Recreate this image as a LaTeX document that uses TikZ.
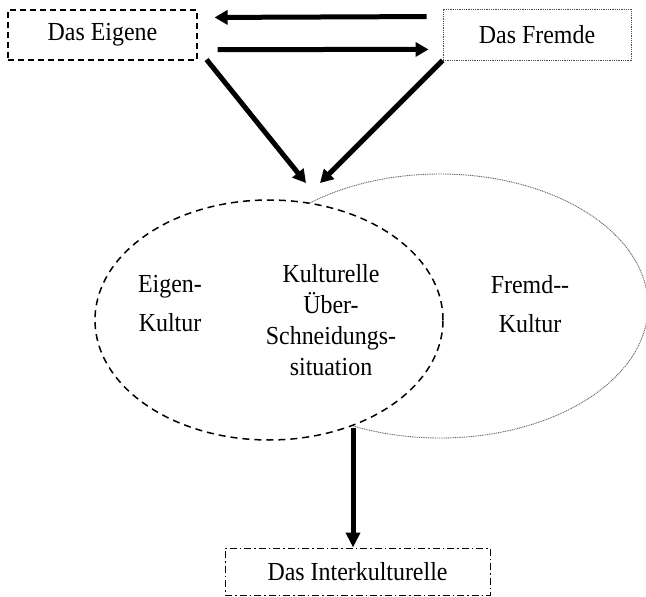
\documentclass[tikz,border=0pt]{standalone}
\usepackage{fontspec}
\setmainfont{Liberation Serif}[FakeStretch=0.92]
\usetikzlibrary{arrows.meta,shapes.geometric}
\begin{document}
\begin{tikzpicture}[x=1pt,y=-1pt,
  lbl/.style={inner sep=0pt, font=\fontsize{26}{30}\selectfont},
  boxeig/.style={draw, dash pattern=on 6pt off 4pt, line width=1.1pt, minimum width=189pt, minimum height=50pt, inner sep=0pt, font=\fontsize{26}{30}\selectfont},
  boxfrm/.style={draw=black!70, dash pattern=on 1pt off 0.8pt, line width=0.9pt, minimum width=188pt, minimum height=51pt, inner sep=0pt, font=\fontsize{26}{30}\selectfont},
  boxint/.style={draw, dash pattern=on 7pt off 3pt on 1.5pt off 3pt, line width=1pt, minimum width=265pt, minimum height=47pt, inner sep=0pt, font=\fontsize{26}{30}\selectfont},
  ellown/.style={ellipse, draw, fill=white, dash pattern=on 7pt off 5pt, line width=1.5pt, minimum width=348pt, minimum height=240pt, inner sep=0pt},
  ellfor/.style={ellipse, draw=black!60, dash pattern=on 1pt off 0.8pt, line width=0.9pt, minimum width=416pt, minimum height=264pt, inner sep=0pt},
  bigarrow/.style={line width=5pt, -{Triangle[length=13pt,width=14pt]}},
  downarrow/.style={line width=5pt, -{Triangle[length=15pt,width=14pt]}}
]
\useasboundingbox (0,0) rectangle (646,597);
\clip (0,0) rectangle (646,597);

% boxes
\node[boxeig] (eigene) at (102.5,35) {Das Eigene};
\node[boxfrm] (fremde) at (537,34.5) {Das Fremde};
\node[boxint] (inter) at (357.5,571.5) {Das Interkulturelle};

% ellipses
\node[ellfor] (frm) at (440,306) {};
\node[ellown] (eig) at (269,320) {};

% texts in ellipses
\node[lbl, align=center, font=\fontsize{26}{39}\selectfont] (eigtxt) at (170,304) {Eigen-\\Kultur};
\node[lbl, align=center, font=\fontsize{26}{31}\selectfont] (uebtxt) at (331,320) {Kulturelle\\Über-\\Schneidungs-\\situation};
\node[lbl, align=center, font=\fontsize{26}{39}\selectfont] (frmtxt) at (530,304) {Fremd-{}-\\Kultur};

% arrow end points
\coordinate (tipL) at (306,183);
\coordinate (tipR) at (320,183);
\coordinate (join) at (353,428);

% connectors
\draw[bigarrow] ([xshift=-16pt,yshift=-8pt]fremde.north west) -- ([xshift=17pt,yshift=-8pt]eigene.north east);
\draw[bigarrow] ([xshift=20pt,yshift=11pt]eigene.south east) -- ([xshift=-14pt,yshift=11pt]fremde.south west);
\draw[bigarrow] ([xshift=9pt,yshift=1pt]eigene.south east) -- (tipL);
\draw[bigarrow] (fremde.south west) -- (tipR);
\draw[downarrow] (join) -- (join |- inter.north);
\end{tikzpicture}
\end{document}
